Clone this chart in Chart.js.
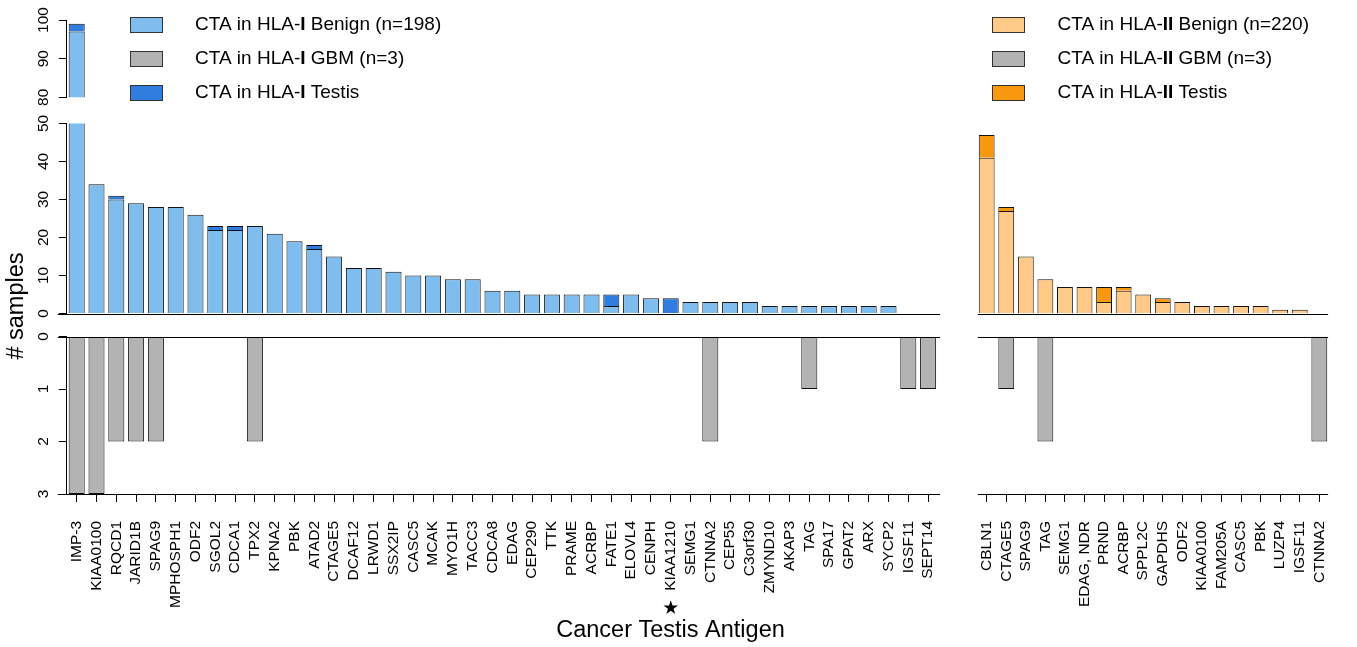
<!DOCTYPE html>
<html>
<head>
<meta charset="utf-8">
<script src="https://cdn.jsdelivr.net/npm/chart.js@4.4.1/dist/chart.umd.min.js"></script>
<style>
  html, body { margin: 0; padding: 0; background: #fff; }
  #wrap { position: relative; width: 1357px; height: 647px; overflow: hidden; background: #fff; }
  #wrap canvas { position: absolute; }
</style>
</head>
<body>
<div id="wrap">
  <canvas id="hla1Break"></canvas>
  <canvas id="hla1Main"></canvas>
  <canvas id="hla1Gbm"></canvas>
  <canvas id="hla2Main"></canvas>
  <canvas id="hla2Gbm"></canvas>
</div>
<script>
// ---- HLA class I cancer testis antigens ----
const hla1Antigens = ['IMP-3', 'KIAA0100', 'RQCD1', 'JARID1B', 'SPAG9', 'MPHOSPH1', 'ODF2', 'SGOL2',
  'CDCA1', 'TPX2', 'KPNA2', 'PBK', 'ATAD2', 'CTAGE5', 'DCAF12', 'LRWD1', 'SSX2IP', 'CASC5', 'MCAK',
  'MYO1H', 'TACC3', 'CDCA8', 'EDAG', 'CEP290', 'TTK', 'PRAME', 'ACRBP', 'FATE1', 'ELOVL4', 'CENPH',
  'KIAA1210', 'SEMG1', 'CTNNA2', 'CEP55', 'C3orf30', 'ZMYND10', 'AKAP3', 'TAG', 'SPA17', 'GPAT2',
  'ARX', 'SYCP2', 'IGSF11', 'SEPT14'];
const hla1Benign = [97, 34, 30, 29, 28, 28, 26, 22, 22, 23, 21, 19, 17, 15, 12, 12, 11, 10, 10, 9, 9,
  6, 6, 5, 5, 5, 5, 2, 5, 4, 0, 3, 3, 3, 3, 2, 2, 2, 2, 2, 2, 2, 0, 0];
const hla1Testis = [2, 0, 1, 0, 0, 0, 0, 1, 1, 0, 0, 0, 1, 0, 0, 0, 0, 0, 0, 0, 0,
  0, 0, 0, 0, 0, 0, 3, 0, 0, 4, 0, 0, 0, 0, 0, 0, 0, 0, 0, 0, 0, 0, 0];
const hla1Gbm = [3, 3, 2, 2, 2, 0, 0, 0, 0, 2, 0, 0, 0, 0, 0, 0, 0, 0, 0, 0, 0,
  0, 0, 0, 0, 0, 0, 0, 0, 0, 0, 0, 2, 0, 0, 0, 0, 1, 0, 0, 0, 0, 1, 1];
const hla1Legend = ['CTA in HLA-I Benign (n=198)', 'CTA in HLA-I GBM (n=3)', 'CTA in HLA-I Testis'];

// ---- HLA class II cancer testis antigens ----
const hla2Antigens = ['CBLN1', 'CTAGE5', 'SPAG9', 'TAG', 'SEMG1', 'EDAG, NDR', 'PRND', 'ACRBP',
  'SPPL2C', 'GAPDHS', 'ODF2', 'KIAA0100', 'FAM205A', 'CASC5', 'PBK', 'LUZP4', 'IGSF11', 'CTNNA2'];
const hla2Benign = [41, 27, 15, 9, 7, 7, 3, 6, 5, 3, 3, 2, 2, 2, 2, 1, 1, 0];
const hla2Testis = [6, 1, 0, 0, 0, 0, 4, 1, 0, 1, 0, 0, 0, 0, 0, 0, 0, 0];
const hla2Gbm = [0, 1, 0, 2, 0, 0, 0, 0, 0, 0, 0, 0, 0, 0, 0, 0, 0, 2];
const hla2Legend = ['CTA in HLA-II Benign (n=220)', 'CTA in HLA-II GBM (n=3)', 'CTA in HLA-II Testis'];

// ---- axis ranges and tick steps ----
const breakRange = [80, 100];   // broken-off top of the count axis
const breakStep = 5;
const breakLabelStep = 10;
const countRange = [0, 50];
const countStep = 10;
const gbmRange = [0, 3];
const gbmStep = 1;

const starredAntigen = 'KIAA1210';
const yTitle = '# samples';
const xTitle = 'Cancer Testis Antigen';

const FONT = '"Liberation Sans", Arial, Helvetica, sans-serif';
Chart.defaults.font.family = FONT;
Chart.defaults.font.size = 15.5;
Chart.defaults.color = '#000';

const colors = {
  benign1: '#80BDEF', testis1: '#2E7DDF',
  benign2: '#FFCA88', testis2: '#F7980F',
  gbm: '#B3B3B3', edge: '#111'
};

function place(id, left, top, width, height) {
  const c = document.getElementById(id);
  c.width = width; c.height = height;
  c.style.left = left + 'px'; c.style.top = top + 'px';
  c.style.width = width + 'px'; c.style.height = height + 'px';
  return c;
}

// horizontal reference lines (zero baselines and the bottom frame line)
const refLines = {
  id: 'refLines',
  afterDatasetsDraw(chart, args, opts) {
    const { ctx, chartArea } = chart;
    const y = chart.scales.y;
    ctx.save();
    ctx.strokeStyle = '#000';
    ctx.lineWidth = 1;
    (opts.lines || []).forEach(l => {
      const py = Math.round(y.getPixelForValue(l.value)) + 0.5;
      ctx.beginPath();
      ctx.moveTo(chartArea.left - l.extL, py);
      ctx.lineTo(chartArea.right + l.extR, py);
      ctx.stroke();
    });
    ctx.restore();
  }
};

const barStyle = { barPercentage: 0.81, categoryPercentage: 1, borderWidth: 1, borderColor: colors.edge };

function yAxis(range, step, pad, extra) {
  return Object.assign({
    stacked: true, min: range[0], max: range[1],
    ticks: { stepSize: step, minRotation: 90, maxRotation: 90, crossAlign: 'center', padding: pad },
    grid: { drawOnChartArea: false, drawTicks: true, tickLength: 8, color: '#000' },
    border: { display: true, color: '#000', width: 1 },
    afterFit(s) { s.width = 66.8; }
  }, extra || {});
}

function hiddenY(range, extra) {
  return Object.assign({ stacked: true, display: false, min: range[0], max: range[1] }, extra || {});
}

function labelledX() {
  return {
    stacked: true, offset: true,
    ticks: { autoSkip: false, minRotation: 90, maxRotation: 90, padding: 19, font: { size: 15.5 } },
    grid: { drawOnChartArea: false, drawTicks: true, tickLength: 8, offset: false, color: '#000' },
    border: { display: false },
    afterFit(s) { s.height = 153; }
  };
}

const common = {
  responsive: false, animation: false, devicePixelRatio: 1,
  events: [],
  datasets: { bar: barStyle }
};

function opts(padding, scales, plugins) {
  return Object.assign({}, common, {
    layout: { padding },
    scales,
    plugins: Object.assign({ legend: { display: false }, tooltip: { enabled: false } }, plugins || {})
  });
}

// keep the plot area at the intended horizontal extent
function pinArea(chart, left, right) {
  for (let k = 0; k < 3; k++) {
    const p = Object.assign({}, chart.options.layout.padding);
    const dl = left - chart.chartArea.left;
    const dr = chart.chartArea.right - right;
    if (Math.abs(dl) < 0.05 && Math.abs(dr) < 0.05) break;
    p.left = Math.max(0, p.left + dl);
    p.right = p.right + dr;
    chart.options.layout.padding = p;
    chart.update();
  }
  return chart;
}

// ---- legends, drawn on the top strip ----
function drawRich(ctx, text, x, y, size) {
  const m = text.match(/^(.*HLA-)(I+)(.*)$/);
  const parts = m ? [[m[1], false], [m[2], true], [m[3], false]] : [[text, false]];
  parts.forEach(([t, bold]) => {
    ctx.font = (bold ? 'bold ' : '') + size + 'px ' + FONT;
    ctx.fillText(t, x, y);
    x += ctx.measureText(t).width;
  });
}

const legendBlocks = [
  { boxX: 130, textX: 195, items: hla1Legend, fills: [colors.benign1, colors.gbm, colors.testis1] },
  { boxX: 992, textX: 1057.5, items: hla2Legend, fills: [colors.benign2, colors.gbm, colors.testis2] }
];
const legendRows = [25, 59, 93];

const legendPlugin = {
  id: 'panelLegends',
  afterDraw(chart) {
    const ctx = chart.ctx;
    ctx.save();
    ctx.textBaseline = 'middle';
    legendBlocks.forEach(b => {
      b.items.forEach((txt, i) => {
        const cy = legendRows[i];
        ctx.fillStyle = b.fills[i];
        ctx.fillRect(b.boxX, cy - 8, 33, 16);
        ctx.strokeStyle = '#333';
        ctx.lineWidth = 1;
        ctx.strokeRect(b.boxX + 0.5, cy - 7.5, 32, 15);
        ctx.fillStyle = '#000';
        drawRich(ctx, txt, b.textX, cy - 0.5, 19);
      });
    });
    ctx.restore();
  }
};

// ---- axis titles and the starred antigen mark ----
const GBM1_TOP = 200;
const titlesPlugin = {
  id: 'axisTitles',
  afterDraw(chart) {
    const ctx = chart.ctx;
    ctx.save();
    ctx.fillStyle = '#000';
    ctx.font = '23.5px ' + FONT;
    ctx.textAlign = 'center';
    ctx.textBaseline = 'middle';
    ctx.save();
    ctx.translate(17, 306 - GBM1_TOP);
    ctx.rotate(-Math.PI / 2);
    ctx.fillText(yTitle, 0, 0);
    ctx.restore();
    ctx.textBaseline = 'alphabetic';
    ctx.fillText(xTitle, 670.5, 636.5 - GBM1_TOP);
    const sx = chart.scales.x.getPixelForValue(hla1Antigens.indexOf(starredAntigen));
    ctx.font = '19px "DejaVu Sans", sans-serif';
    ctx.textBaseline = 'middle';
    ctx.fillText('\u2605', sx, 609 - GBM1_TOP);
    ctx.restore();
  }
};

function countSets(benign, testis, cBenign, cTestis, benignLabel, testisLabel) {
  return [
    { label: benignLabel, data: benign, backgroundColor: cBenign, stack: 'cta' },
    { label: testisLabel, data: testis, backgroundColor: cTestis, stack: 'cta' }
  ];
}

// HLA-I, broken-off top part of the count axis
pinArea(new Chart(place('hla1Break', 0, 0, 1357, 110), {
  type: 'bar',
  data: { labels: hla1Antigens, datasets: countSets(hla1Benign, hla1Testis, colors.benign1, colors.testis1, hla1Legend[0], hla1Legend[2]) },
  options: opts({ top: 20, bottom: 12.7, left: 0, right: 419 }, {
    x: { stacked: true, display: false },
    y: yAxis(breakRange, breakStep, 2.4, {
      ticks: { stepSize: breakStep, minRotation: 90, maxRotation: 90, crossAlign: 'center', padding: 2.4,
        callback: v => (v % breakLabelStep === 0 ? String(v) : '') }
    })
  }),
  plugins: [legendPlugin]
}), 66.8, 938);

// HLA-I, main count panel
pinArea(new Chart(place('hla1Main', 0, 100, 950, 230), {
  type: 'bar',
  data: { labels: hla1Antigens, datasets: countSets(hla1Benign, hla1Testis, colors.benign1, colors.testis1, hla1Legend[0], hla1Legend[2]) },
  options: opts({ top: 23.5, bottom: 16.5, left: 0, right: 12 }, {
    x: { stacked: true, display: false },
    y: yAxis(countRange, countStep, 6.7)
  }, { refLines: { lines: [{ value: 0, extL: 9, extR: 2 }] } }),
  plugins: [refLines]
}), 66.8, 938);

// HLA-I, GBM panel (downward); the canvas runs wider so the rotated labels keep the plot width
pinArea(new Chart(place('hla1Gbm', 0, GBM1_TOP, 990, 447), {
  type: 'bar',
  data: { labels: hla1Antigens, datasets: [{ label: hla1Legend[1], data: hla1Gbm, backgroundColor: colors.gbm }] },
  options: opts({ top: 136.5, bottom: 0, left: 0, right: 52 }, {
    x: labelledX(),
    y: yAxis(gbmRange, gbmStep, 11, { reverse: true })
  }, { refLines: { lines: [{ value: 0, extL: 9, extR: 2 }, { value: 3, extL: 9, extR: 2 }] } }),
  plugins: [refLines, titlesPlugin]
}), 66.8, 938);

// HLA-II, main count panel
pinArea(new Chart(place('hla2Main', 960, 100, 397, 230), {
  type: 'bar',
  data: { labels: hla2Antigens, datasets: countSets(hla2Benign, hla2Testis, colors.benign2, colors.testis2, hla2Legend[0], hla2Legend[2]) },
  options: opts({ top: 23.5, bottom: 16.5, left: 16.9, right: 27.9 }, {
    x: { stacked: true, display: false },
    y: hiddenY(countRange)
  }, { refLines: { lines: [{ value: 0, extL: -1, extR: -1 }] } }),
  plugins: [refLines]
}), 16.9, 369.1);

// HLA-II, GBM panel (downward)
pinArea(new Chart(place('hla2Gbm', 930, GBM1_TOP, 460, 447), {
  type: 'bar',
  data: { labels: hla2Antigens, datasets: [{ label: hla2Legend[1], data: hla2Gbm, backgroundColor: colors.gbm }] },
  options: opts({ top: 136.5, bottom: 0, left: 46.9, right: 60.9 }, {
    x: labelledX(),
    y: hiddenY(gbmRange, { reverse: true })
  }, { refLines: { lines: [{ value: 0, extL: -1, extR: -1 }, { value: 3, extL: -1, extR: -1 }] } }),
  plugins: [refLines]
}), 46.9, 399.1);
</script>
</body>
</html>
